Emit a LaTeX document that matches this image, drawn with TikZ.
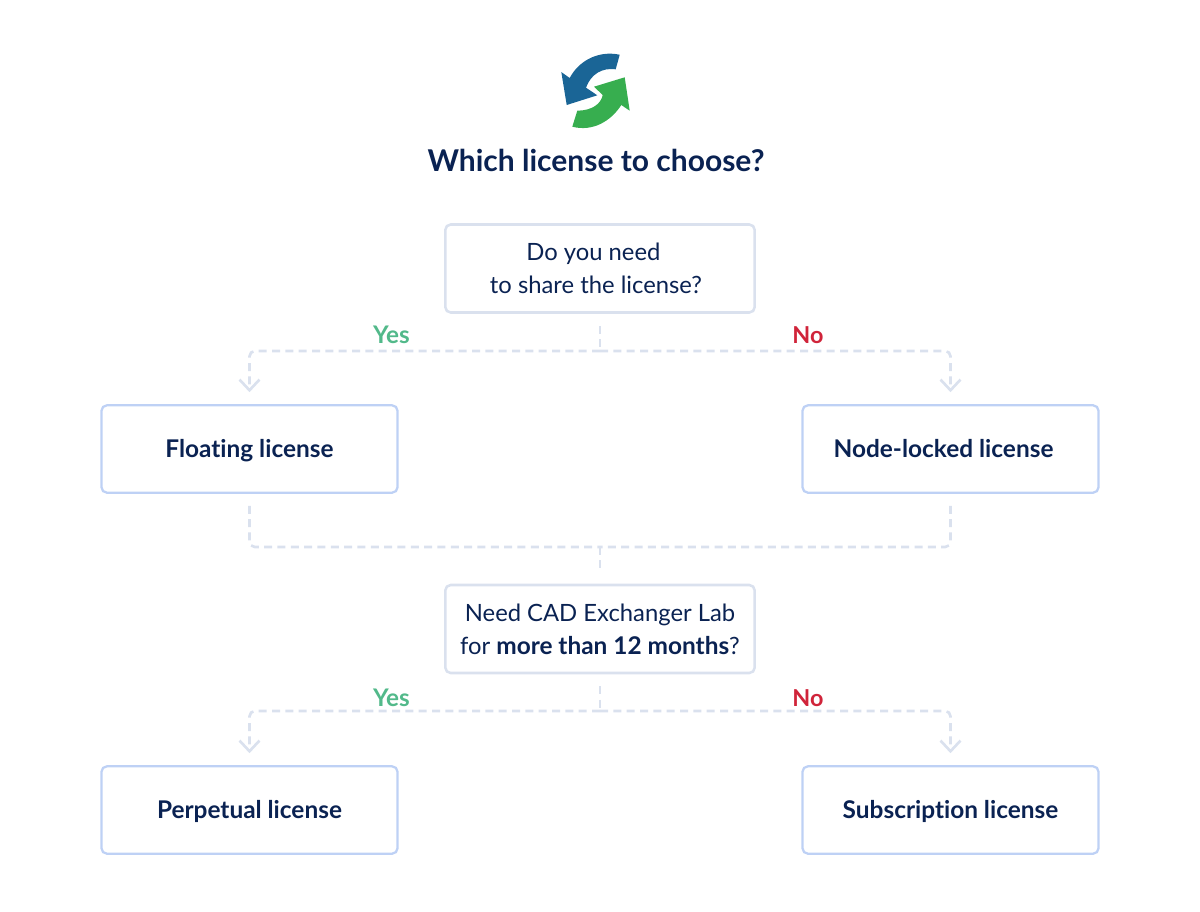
\documentclass[tikz,border=0pt]{standalone}
\usepackage{fontspec}
\setmainfont{Lato}[Ligatures=NoCommon]
\usetikzlibrary{arrows.meta}
\definecolor{navy}{RGB}{10,34,82}
\definecolor{qborder}{RGB}{218,225,238}
\definecolor{aborder}{RGB}{190,209,245}
\definecolor{yescol}{RGB}{82,185,138}
\definecolor{nocol}{RGB}{208,36,58}
\definecolor{iconblue}{RGB}{26,101,150}
\definecolor{icongreen}{RGB}{55,174,79}
\tikzset{every picture/.style={line width=0.75pt}}
\tikzset{
  question/.style={draw=qborder,line width=1.9pt,rounded corners=4pt,minimum width=232pt,minimum height=66pt,align=center,text=navy,font=\fontsize{17.85}{24.5}\selectfont},
  answer/.style={draw=aborder,line width=1.7pt,rounded corners=4pt,minimum width=222pt,minimum height=65.5pt,align=center,text=navy,text height=15.5pt,text depth=3.5pt,font=\fontsize{18.3}{24.5}\selectfont\bfseries},
  link/.style={draw=qborder,line width=2pt,dash pattern=on 6pt off 4pt,rounded corners=4pt},
  linktip/.style={link,-{Straight Barb[length=8pt,width=15pt,line width=2pt]}},
  yeslabel/.style={text=yescol,font=\fontsize{18.2}{20}\selectfont\bfseries},
  nolabel/.style={text=nocol,font=\fontsize{17.5}{20}\selectfont\bfseries}
}

\begin{document}
\begin{tikzpicture}[x=0.75pt,y=0.75pt,yscale=-1,xscale=1]
\useasboundingbox (0,0) rectangle (1200,911);

%Icon arrows
\fill [iconblue] (619.7,54.7) -- (615.7,69.3) .. controls (602,67.5) and (591,74) .. (586,87.7) -- (597.3,95.3) -- (566.7,105) -- (561.3,72) -- (569.7,78) .. controls (578,62) and (597,50) .. (619.7,54.7) -- cycle ;
\fill [icongreen] (572.3,126.7) -- (577.3,110.7) .. controls (592,110.5) and (601,104) .. (602.7,95) -- (594,86.7) -- (624.7,77.3) -- (629.7,110.7) -- (621.3,105) .. controls (611,121) and (593,132) .. (572.3,126.7) -- cycle ;

% Text Node
\node [text=navy,font=\fontsize{22.5}{26}\selectfont\bfseries] (title) at (596,160) {Which license to choose?};

% Boxes
\node [question] (share) at (600,268.5) {Do you need\hspace*{10pt}\\to share the license?\hspace*{6pt}};
\node [answer] (floating) at (249.5,449) {Floating license};
\node [answer] (nodelocked) at (950.5,449) {Node-locked license\hspace*{10.5pt}};
\node [question] (months) at (600,629) {Need CAD Exchanger Lab\\for {\fontsize{18.3}{24.5}\selectfont\bfseries more than 12 months}?};
\node [answer] (perpetual) at (249.5,810) {Perpetual license};
\node [answer] (subscription) at (950.5,810) {Subscription license};

% Junctions
\coordinate (sharesplit) at (600,351);
\coordinate (mergepoint) at (600,547);
\coordinate (monthssplit) at (600,711);

% Connectors
\draw [link,shorten <=9pt] (share.south) -- (sharesplit);
\draw [linktip,shorten >=9pt] (sharesplit) -| (floating.north);
\draw [linktip,shorten >=9pt] (sharesplit) -| (nodelocked.north);
\draw [link,shorten <=9pt] (floating.south) |- (mergepoint);
\draw [link,shorten <=9pt] (nodelocked.south) |- (mergepoint);
\draw [link,shorten >=9pt] (mergepoint) -- (months.north);
\draw [link,shorten <=9pt] (months.south) -- (monthssplit);
\draw [linktip,shorten >=9pt] (monthssplit) -| (perpetual.north);
\draw [linktip,shorten >=9pt] (monthssplit) -| (subscription.north);

% Text Node
\node [yeslabel] (yesshare) at (391.5,335) {Yes};
\node [nolabel] (noshare) at (808,335) {No};
\node [yeslabel] (yesmonths) at (391.5,698) {Yes};
\node [nolabel] (nomonths) at (808,698) {No};

\end{tikzpicture}
\end{document}
